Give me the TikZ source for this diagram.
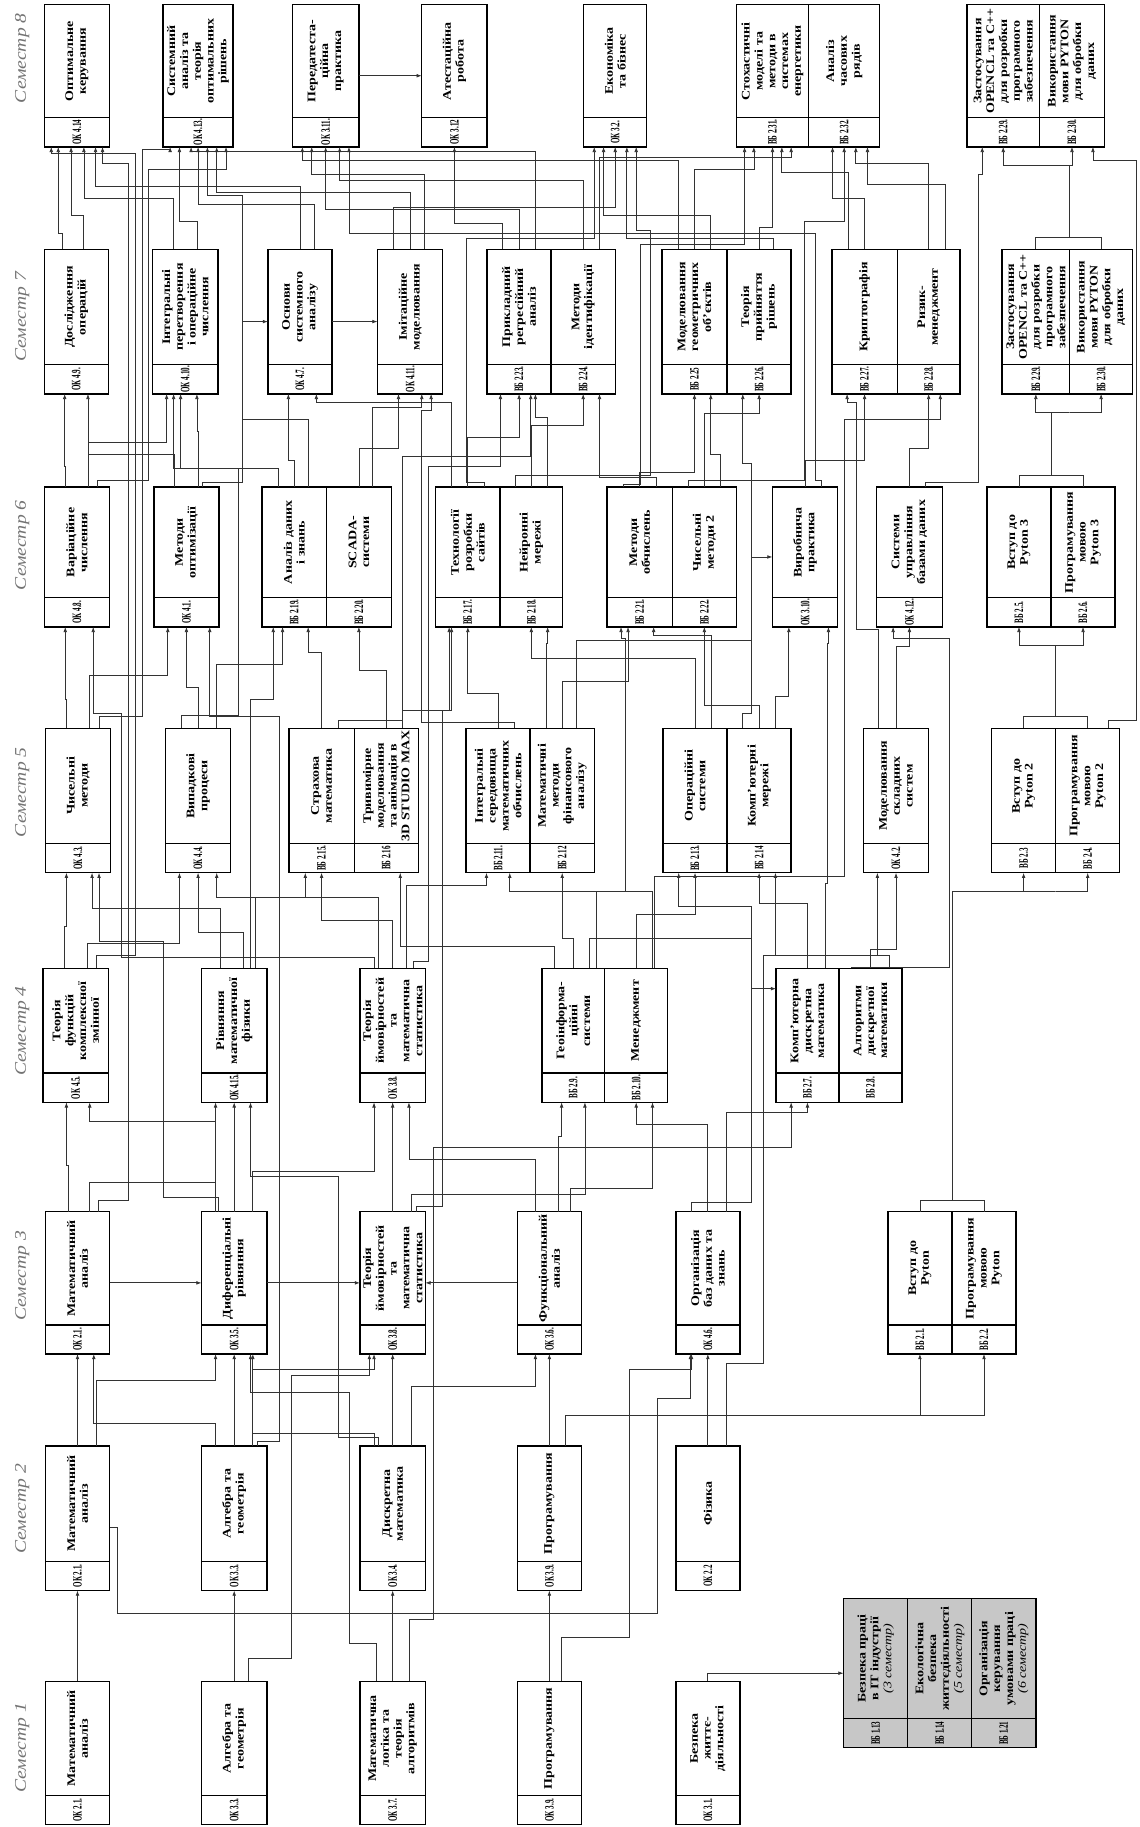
\documentclass[tikz,border=0pt]{standalone}
\usepackage{fontspec}
\setmainfont{Liberation Serif}
\newfontfamily\ttlfont[FakeStretch=1.2]{Liberation Serif}
\newfontfamily\codefont[FakeStretch=0.55]{Liberation Serif}
\usetikzlibrary{arrows.meta,calc}
\tikzset{
  course/.style={draw, line width=1.2pt, fill=white, inner sep=0pt, outer sep=0pt, minimum width=56pt},
  split/.style={line width=1.2pt},
  ttltxt/.style={rotate=90, align=center, inner sep=0pt, font=\ttlfont\bfseries\fontsize{10}{11}\selectfont},
  codetxt/.style={rotate=90, inner sep=0pt, font=\codefont\bfseries\fontsize{11}{12}\selectfont},
  semlbl/.style={rotate=90, text=black!55, font=\ttlfont\itshape\fontsize{14}{16}\selectfont},
  wire/.style={draw=black!80, line width=0.65pt},
  conn/.style={wire, -{Latex[length=4.5pt,width=3.2pt]}}}

% box: [width]{name}{north west corner}{height}{code}{title}
\newcommand{\course}[6][56]{%
  \node[course, minimum width=#1, minimum height=#4, anchor=north west] (#2) at (#3) {};
  \draw[split] ([yshift=25pt]#2.south west) -- ([yshift=25pt]#2.south east);
  \node[codetxt] (#2-code) at ([yshift=12.5pt]#2.south) {#5};
  \node[ttltxt] (#2-name) at ([yshift=12.5pt]#2.center) {#6};}

% link to the next semester: src, dx, channel y, tgt, dx
\newcommand{\hop}[5]{%
  \coordinate (hp) at ([xshift=#2]#1.north);
  \coordinate (hq) at ([xshift=#5]#4.south);
  \coordinate (hc) at (0,#3);
  \draw[conn] (hp) -- (hp |- hc) -| (hq);}

% long link through a corridor: src, dx, y1, corridor x, y2, tgt, dx
\newcommand{\longhop}[7]{%
  \coordinate (hp) at ([xshift=#2]#1.north);
  \coordinate (hq) at ([xshift=#7]#6.south);
  \draw[conn] (hp) |- (#4,#3) -- (#4,#5) -| (hq);}

\begin{document}
\begin{tikzpicture}[x=1pt, y=-1pt]
  \fill[white] (0,0) rectangle (978,1568);
  \useasboundingbox (0,0) rectangle (978,1568);

  % semester labels
  \node[semlbl] (sem8) at (19,50) {Семестр 8};
  \node[semlbl] (sem7) at (19,272) {Семестр 7};
  \node[semlbl] (sem6) at (19,468) {Семестр 6};
  \node[semlbl] (sem5) at (19,680) {Семестр 5};
  \node[semlbl] (sem4) at (19,885) {Семестр 4};
  \node[semlbl] (sem3) at (19,1095) {Семестр 3};
  \node[semlbl] (sem2) at (19,1295) {Семестр 2};
  \node[semlbl] (sem1) at (19,1500) {Семестр 1};

  % semester 8
  \course{s8a}{38,4}{122}{ОК 4.14}{Оптимальне\\керування}
  \course[60]{s8b}{140,4}{122}{ОК 4.13.}{Системний\\аналіз та\\теорія\\оптимальних\\рішень}
  \course[57]{s8c}{251,4}{122}{ОК 3.11.}{Передатеста-\\ційна\\практика}
  \course{s8d}{362,4}{122}{ОК 3.12}{Атестаційна\\робота}
  \course[54]{s8e}{501,4}{122}{ОК 3.2.}{Економіка\\та бізнес}
  \course[62]{s8f}{632,4}{122}{ВБ 2.31.}{Стохастичні\\моделі та\\методи в\\системах\\енергетики}
  \course[61]{s8g}{694,4}{122}{ВБ 2.32.}{Аналіз\\часових\\рядів}
  \course[62]{s8h}{830,4}{122}{ВБ 2.29.}{Застосування\\OPENCL та C++\\для розробки\\програмного\\забезпечення}
  \course{s8i}{892,4}{122}{ВБ 2.30.}{Використання\\мови PYTON\\для обробки\\даних}

  % semester 7
  \course[55]{s7a}{38,214}{124}{ОК 4.9.}{Дослідження\\операцій}
  \course{s7b}{131,214}{124}{ОК 4.10.}{Інтегральні\\перетворення\\і операційне\\числення}
  \course[55]{s7c}{230,214}{124}{ОК 4.7.}{Основи\\системного\\аналізу}
  \course{s7d}{324,214}{124}{ОК 4.11.}{Імітаційне\\моделювання}
  \course[55]{s7e}{418,214}{124}{ВБ 2.23.}{Прикладний\\регресійний\\аналіз}
  \course[55]{s7f}{473,214}{124}{ВБ 2.24.}{Методи\\ідентифікації}
  \course{s7g}{568,214}{124}{ВБ 2.25}{Моделювання\\геометричних\\об’єктів}
  \course[55]{s7h}{624,214}{124}{ВБ 2.26.}{Теорія\\прийняття\\рішень}
  \course{s7i}{714,214}{124}{ВБ 2.27.}{Криптографія}
  \course[54]{s7j}{770,214}{124}{ВБ 2.28.}{Ризик-\\менеджмент}
  \course[58]{s7k}{860,214}{124}{ВБ 2.29.}{Застосування\\OPENCL та C++\\для розробки\\програмного\\забезпечення}
  \course[54]{s7l}{918,214}{124}{ВБ 2.30.}{Використання\\мови PYTON\\для обробки\\даних}

  % semester 6
  \course{s6a}{38,418}{120}{ОК 4.8.}{Варіаційне\\числення}
  \course{s6b}{132,418}{120}{ОК 4.1.}{Методи\\оптимізації}
  \course[55]{s6c}{225,418}{120}{ВБ 2.19.}{Аналіз даних\\і знань}
  \course{s6d}{280,418}{120}{ВБ 2.20.}{SCADA-\\системи}
  \course[55]{s6e}{374,418}{120}{ВБ 2.17.}{Технології\\розробки\\сайтів}
  \course[54]{s6f}{429,418}{120}{ВБ 2.18.}{Нейронні\\мережі}
  \course{s6g}{521,418}{120}{ВБ 2.21.}{Методи\\обчислень}
  \course[55]{s6h}{577,418}{120}{ВБ 2.22.}{Чисельні\\методи 2}
  \course{s6i}{663,418}{120}{ОК 3.10.}{Виробнича\\практика}
  \course[57]{s6j}{752,418}{120}{ОК 4.12.}{Системи\\управління\\базами даних}
  \course[55]{s6k}{847,418}{120}{ВБ 2.5.}{Вступ до\\Pyton 3}
  \course[55]{s6l}{902,418}{120}{ВБ 2.6.}{Програмування\\мовою\\Pyton 3}

  % semester 5
  \course{s5a}{39,625}{124}{ОК 4.3.}{Чисельні\\методи}
  \course{s5b}{142,625}{124}{ОК 4.4.}{Випадкові\\процеси}
  \course{s5c}{248,625}{124}{ВБ 2.15.}{Страхова\\математика}
  \course[55]{s5d}{304,625}{124}{ВБ 2.16}{Тривимірне\\моделювання\\та анімація в\\3D STUDIO MAX}
  \course[55]{s5e}{400,625}{124}{ВБ 2.11.}{Інтегральні\\середовища\\математичних\\обчислень}
  \course[55]{s5f}{455,625}{124}{ВБ 2.12}{Математичні\\методи\\фінансового\\аналізу}
  \course[55]{s5g}{569,625}{124}{ВБ 2.13.}{Операційні\\системи}
  \course[55]{s5h}{624,625}{124}{ВБ 2.14}{Комп’ютерні\\мережі}
  \course{s5i}{741,625}{124}{ОК 4.2.}{Моделювання\\складних\\систем}
  \course[55]{s5j}{851,625}{124}{ВБ 2.3}{Вступ до\\Pyton 2}
  \course[55]{s5k}{906,625}{124}{ВБ 2.4.}{Програмування\\мовою\\Pyton 2}

  % semester 4
  \course{s4a}{37,831}{115}{ОК 4.5.}{Теорія\\функцій\\комплексної\\змінної}
  \course{s4b}{173,831}{115}{ОК 4.15.}{Рівняння\\математичної\\фізики}
  \course{s4c}{309,831}{115}{ОК 3.8.}{Теорія\\ймовірностей\\та\\математична\\статистика}
  \course[54]{s4d}{465,831}{115}{ВБ 2.9.}{Геоінформа-\\ційні\\системи}
  \course[54]{s4e}{519,831}{115}{ВБ 2.10.}{Менеджмент}
  \course[54]{s4f}{666,831}{115}{ВБ 2.7.}{Комп’ютерна\\дискретна\\математика}
  \course[54]{s4g}{720,831}{115}{ВБ 2.8.}{Алгоритми\\дискретної\\математики}

  % semester 3
  \course[55]{s3a}{39,1040}{122}{ОК 2.1.}{Математичний\\аналіз}
  \course{s3b}{173,1040}{122}{ОК 3.5.}{Диференціальні\\рівняння}
  \course{s3c}{309,1040}{122}{ОК 3.8.}{Теорія\\ймовірностей\\та\\математична\\статистика}
  \course[55]{s3d}{444,1040}{122}{ОК 3.6.}{Функціональний\\аналіз}
  \course[55]{s3e}{580,1040}{122}{ОК 4.6.}{Організація\\баз даних та\\знань}
  \course[55]{s3f}{762,1040}{122}{ВБ 2.1.}{Вступ до\\Pyton}
  \course[55]{s3g}{817,1040}{122}{ВБ 2.2.}{Програмування\\мовою\\Pyton}

  % semester 2
  \course[55]{s2a}{39,1241}{124}{ОК 2.1.}{Математичний\\аналіз}
  \course{s2b}{173,1241}{124}{ОК 3.3.}{Алгебра та\\геометрія}
  \course{s2c}{309,1241}{124}{ОК 3.4.}{Дискретна\\математика}
  \course[55]{s2d}{444,1241}{124}{ОК 3.9.}{Програмування}
  \course[55]{s2e}{580,1241}{124}{ОК 2.2}{Фізика}

  % semester 1
  \course[55]{s1a}{39,1443}{123}{ОК 2.1.}{Математичний\\аналіз}
  \course{s1b}{173,1443}{123}{ОК 3.3.}{Алгебра та\\геометрія}
  \course{s1c}{309,1443}{123}{ОК 3.7.}{Математична\\логіка та\\теорія\\алгоритмів}
  \course[55]{s1d}{444,1443}{123}{ОК 3.9.}{Програмування}
  \course[55]{s1e}{580,1443}{123}{ОК 3.1.}{Безпека\\життє-\\діяльності}
  \begin{scope}[course/.append style={fill=black!22}]
    \course[55]{g1}{724,1372}{128}{ВБ 1.13}{Безпека праці\\в IT індустрії\\{\mdseries\itshape (3 семестр)}}
    \course[55]{g2}{779,1372}{128}{ВБ 1.14}{Екологічна\\безпека\\життєдіяльності\\{\mdseries\itshape (5 семестр)}}
    \course[55]{g3}{834,1372}{128}{ВБ 1.21}{Організація\\керування\\умовами праці\\{\mdseries\itshape (6 семестр)}}
  \end{scope}

  % links between neighbouring semesters
  \foreach \src/\dsrc/\chan/\tgt/\dtgt in {
    s1a/0/1400/s2a/0, s1b/0/1400/s2b/0, s1c/0/1400/s2c/0, s1d/0/1400/s2d/0,
    s2a/0/1200/s3a/0, s2a/16/1185/s3b/-16, s2b/0/1200/s3b/0, s2b/16/1175/s3c/-16,
    s2c/0/1200/s3c/0, s2c/16/1190/s3d/-12, s2d/0/1200/s3d/0, s2d/14/1215/s3f/0,
    s2d/14/1215/s3g/0, s2e/0/1200/s3e/0, s2b/-16/1222/s3a/14, s2c/-16/1230/s3b/16,
    s3a/-8/1000/s4a/-8, s3a/10/1015/s4b/-16, s3b/0/985/s4b/0, s3b/16/1005/s4c/-16,
    s3c/0/985/s4c/0, s3d/-12/995/s4c/14, s3d/8/975/s4d/-10, s3e/0/965/s4e/0,
    s3e/16/955/s4f/0, s3c/16/1025/s4d/10, s3b/-16/962/s4a/12, s3d/18/1020/s4e/14,
    s4a/-10/795/s5a/-10, s4a/10/810/s5b/-16, s4b/-12/780/s5a/12, s4b/8/800/s5b/0,
    s4c/-12/770/s5b/16, s4c/0/790/s5c/0, s4c/12/760/s5e/-10, s4d/0/805/s5f/0,
    s4e/0/785/s5g/0, s4f/0/775/s5h/0, s4g/0/815/s5i/0, s4e/14/765/s5e/10,
    s4g/16/820/s5h/14, s4d/-16/812/s5d/12, s4b/18/770/s5c/-14,
    s5a/-10/600/s6a/-10, s5a/10/580/s6b/-16, s5b/0/590/s6b/0, s5b/16/570/s6c/-10,
    s5c/0/560/s6c/12, s5d/0/575/s6d/0, s5e/0/595/s6e/0, s5f/0/585/s6g/-10,
    s5g/0/565/s6f/0, s5h/0/605/s6h/0, s5i/0/555/s6j/0, s5g/14/545/s6g/12,
    s5d/14/610/s6e/-14, s5f/-14/552/s6f/14, s5h/14/598/s6i/-14,
    s6a/-10/400/s7a/-10, s6a/10/380/s7b/-16, s6b/-10/390/s7a/10, s6b/10/370/s7b/10,
    s6c/0/395/s7c/-10, s6d/0/385/s7d/-10, s6e/0/375/s7e/0, s6f/0/365/s7f/0,
    s6g/0/405/s7g/0, s6h/0/355/s7h/0, s6i/0/395/s7i/0, s6j/0/385/s7j/0,
    s6d/12/350/s7d/10, s6g/14/410/s7f/14, s6e/-14/345/s7c/14, s6h/14/390/s7g/14,
    s6c/-14/402/s7b/-4, s6f/14/358/s7e/14,
    s7a/-12/200/s8a/-16, s7a/6/185/s8a/-5, s7b/-10/170/s8a/6, s7b/10/190/s8b/-16,
    s7c/0/160/s8a/16, s7c/12/175/s8b/0, s7d/0/165/s8b/16, s7d/12/150/s8c/-12,
    s7e/0/180/s8c/0, s7f/0/155/s8c/12, s7g/0/145/s8f/-16, s7h/0/195/s8f/0,
    s7i/0/170/s8g/-10, s7j/0/140/s8g/10, s7h/12/205/s8e/10, s7f/14/135/s8f/16,
    s7g/14/185/s8e/-10, s7e/14/130/s8b/-6, s7g/-14/138/s8c/-20, s7i/-14/148/s8f/8,
    s7j/14/158/s8g/20, s7d/-14/178/s8e/0, s7e/-14/192/s8d/0}
    {\hop{\src}{\dsrc}{\chan}{\tgt}{\dtgt}}

  % long links
  \foreach \src/\dsrc/\ya/\xt/\yb/\tgt/\dtgt in {
    s3a/18/1030/110/140/s8a/22, s4a/18/820/116/132/s8a/-22, s5a/18/615/122/128/s8b/-24,
    s6a/18/412/127/145/s8b/24, s2b/20/1237/240/615/s6b/20, s3c/20/1035/380/610/s6e/-16,
    s4d/20/765/537/548/s6g/-16, s4f/15/758/710/552/s6i/20, s5i/-15/540/735/345/s7i/-15,
    s5e/14/620/362/352/s7d/18, s6i/14/412/700/200/s8c/20, s6j/14/414/840/150/s8h/-18,
    s5k/18/618/975/138/s8i/18, s6g/-14/416/550/210/s8f/-24, s6e/14/414/400/205/s8e/-18,
    s4c/18/825/368/400/s7e/-16, s4e/16/752/725/360/s7j/10, s2e/16/1170/655/820/s5i/-16,
    s1b/12/1423/250/1180/s3c/-20, s1c/-14/1410/300/1195/s3b/14, s1c/14/1390/372/985/s4f/-14,
    s1d/10/1405/540/1175/s3e/-14, s6b/14/414/208/168/s8b/8, s6h/-14/412/690/190/s8g/0,
    s6f/-14/408/558/198/s8e/18, s5c/14/618/345/392/s7e/10, s5h/-14/612/645/398/s7h/-14,
    s5b/-14/614/205/402/s7b/-10, s4b/14/826/215/600/s6c/-18, s4c/-16/822/104/612/s6a/14,
    s4g/-16/830/815/548/s6j/-14, s3e/-14/1032/645/778/s5g/-14, s3b/-14/1028/140/808/s5a/18,
    s2c/-12/1234/290/1010/s4b/14}
    {\longhop{\src}{\dsrc}{\ya}{\xt}{\yb}{\tgt}{\dtgt}}

  % links inside a semester and side entries
  \draw[conn] (s1e.north) |- (g1.west);
  \draw[conn] ([yshift=-8pt]s2a.east) -| (101,1385) -| (564,1200) -| ([xshift=-15]s3e.south);
  \draw[conn] (s3a) -- (s3b);
  \draw[conn] (s3b) -- (s3c);
  \draw[conn] (s3d) -- (s3c);
  \draw[conn] ([xshift=14]s4d.north) |- (645,805) |- ([yshift=40pt]s4f.west);
  \draw[conn] ([xshift=12]s5f.north) |- (645,550) |- (s6i.west);
  \draw[conn] ([xshift=12]s6c.north) |- (208,360) |- (s7c.west);
  \draw[conn] (s7c) -- (s7d);
  \draw[conn] (s8c) -- (s8d);

  % python chain
  \draw[wire] (s3f.north) -- ++(0,10pt) -| (s3g.north);
  \draw[conn] ([yshift=10pt]s3f.north east) |- ([yshift=-16pt]s5j.south east) -| (s5j.south);
  \draw[conn] ([yshift=-16pt]s5j.south east) -| (s5k.south);
  \draw[wire] (s5j.north) -- ++(0,10pt) -| (s5k.north);
  \draw[conn] ([yshift=10pt]s5j.north east) |- ([yshift=-16pt]s6k.south east) -| (s6k.south);
  \draw[conn] ([yshift=-16pt]s6k.south east) -| (s6l.south);
  \draw[wire] (s6k.north) -- ++(0,10pt) -| (s6l.north);
  \draw[conn] ([yshift=10pt]s6k.north east) |- ([yshift=-16pt]s7k.south east) -| (s7k.south);
  \draw[conn] ([yshift=-16pt]s7k.south east) -| (s7l.south);
  \draw[wire] (s7k.north) -- ++(0,10pt) -| (s7l.north);
  \draw[conn] ([yshift=10pt]s7k.north east) |- ([yshift=-16pt]s8h.south east) -| (s8h.south);
  \draw[conn] ([yshift=-16pt]s8h.south east) -| (s8i.south);
\end{tikzpicture}
\end{document}
